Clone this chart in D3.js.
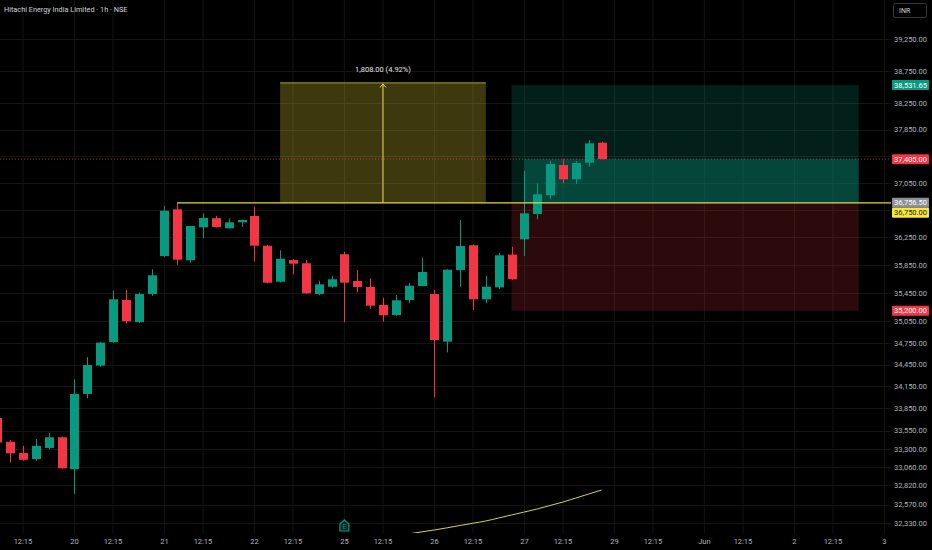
<!DOCTYPE html>
<html>
<head>
<meta charset="utf-8">
<script src="https://cdn.jsdelivr.net/npm/d3@7"></script>
<style>
  html, body { margin: 0; padding: 0; background: #000; }
  svg { display: block; font-family: Roboto, "Liberation Sans", sans-serif; }
</style>
</head>
<body>
<div id="chart"></div>
<script>
// ---- data ----
const title = "Hitachi Energy India Limited · 1h · NSE";
const firstBar = -6; // first visible hourly bar, counted from the 20th 09:15 bar

const open  = [33720,33400,33250,33170,33317,33460, 33035,34046,34435,34760,35352,35040,35437,
               35980,36660,35920,36397,36530,36383,36470, 36563,36130,35612,35923,35876,35437,35541,
               36006,35622,35537,35282,35140,35352,35551, 35437,34767,35780,36136,35362,35532,36000,
               36223,36592,36868,37317,37104,37352,37652];
const high  = [33800,33425,33345,33435,33518,33470, 34245,34550,34760,35485,35494,35456,35790,
               36710,36756.5,36420,36602,36565,36530,36510, 36700,36140,36063,35935,35923,35627,35694,
               36043,35780,35660,35385,35423,35598,35956, 35494,35790,36504,36150,35698,36029,36115,
               37232,37045,37382,37403,37377,37693,37670];
const low   = [33340,33125,33145,33145,33300,33040, 32710,33987,34420,34750,35024,35030,35410,
               35970,35856,35885,36237,36395,36380,36402, 35900,35590,35600,35718,35440,35419,35530,
               35038,35462,35225,35046,35130,35305,35545, 34000,34619,35541,35211,35305,35508,35640,
               35981,36514,36809,37045,37035,37292,37400];
const close = [33390,33245,33160,33345,33460,33047, 34045,34443,34753,35362,35052,35437,35704,
               36640,35928,36416,36533,36400,36470,36504, 36130,35598,35942,35870,35447,35575,35647,
               35598,35537,35272,35136,35348,35555,35751, 34790,35784,36125,35362,35541,35991,35647,
               36602,36882,37332,37104,37347,37643,37405];

// slow moving average (yellow line at the bottom)
const maStart = 25;
const maValues = [32170,32190,32215,32240,32268,32298,32327,32356,32395,32434,32473,32512,32558,32603,32655,32708,32760];

// x axis
const xTickIdx    = [-4, 0, 3, 7, 10, 14, 17, 21, 24, 28, 31, 35, 38, 42, 45, 49, 52, 56, 59, 63];
const xTickLabels = ["12:15","20","12:15","21","12:15","22","12:15","25","12:15","26","12:15","27","12:15","29","12:15","Jun","12:15","2","12:15","3"];

// y axis (log); grid lines on every tick, labels hidden where a price tag covers them
const yTicks = [39250,38750,38250,37850,37450,37050,36650,36250,35850,35450,35050,34750,34450,34150,33850,33550,33300,33060,32820,32570,32330];
const yTicksCovered = [37450, 36650];

// drawings
const rangeFrom = 36756.5, rangeTo = 38564.5, rangeStartBar = 16, rangeEndBar = 32;
const rangeLabel = "1,808.00 (4.92%)";
const levelLine = 36756.5, levelStartBar = 8;
const entry = 36750, target = 38531.65, stop = 35200, posStartBar = 34, posFillBar = 35, posEndBar = 61;
const lastPrice = 37405;
const earningsBar = 21;

const tagPrices = [38531.65, 37405, 36756.5, 36750, 35200];
const tagLabels = ["38,531.65", "37,405.00", "36,756.50", "36,750.00", "35,200.00"];
const tagFill   = ["#089981", "#f23645", "#8c8f96", "#f5e83a", "#f23645"];
const tagText   = ["#fff", "#fff", "#fff", "#1a1a1a", "#fff"];

// ---- layout ----
const width = 932, height = 550;
const plotRight = 891, plotBottom = 533;
const up = "#089981", down = "#f23645";

const svg = d3.select("#chart").append("svg")
    .attr("width", width)
    .attr("height", height);

svg.append("rect").attr("width", width).attr("height", height).attr("fill", "#000");

svg.append("defs").append("clipPath").attr("id", "plot-clip")
    .append("rect").attr("x", 0).attr("y", 0).attr("width", plotRight).attr("height", plotBottom);

const x = d3.scaleLinear().domain([0, 63]).range([74.4, 884.4]);
const y = d3.scaleLog().domain([32330, 39250]).range([523, 39]);

const bars = open.map((o, i) => ({ i: firstBar + i, o: o, h: high[i], l: low[i], c: close[i] }));

const plot = svg.append("g").attr("clip-path", "url(#plot-clip)");

// grid
plot.append("g").selectAll("line").data(xTickIdx).enter().append("line")
    .attr("x1", d => x(d)).attr("x2", d => x(d))
    .attr("y1", 0).attr("y2", plotBottom)
    .attr("stroke", "#141414").attr("stroke-width", 1);
plot.append("g").selectAll("line").data(yTicks).enter().append("line")
    .attr("x1", 0).attr("x2", plotRight)
    .attr("y1", d => Math.round(y(d)) + 0.5).attr("y2", d => Math.round(y(d)) + 0.5)
    .attr("stroke", "#141414").attr("stroke-width", 1);

// price range box
plot.append("rect")
    .attr("x", x(rangeStartBar)).attr("y", y(rangeTo))
    .attr("width", x(rangeEndBar) - x(rangeStartBar))
    .attr("height", y(rangeFrom) - y(rangeTo))
    .attr("fill", "rgba(255,235,59,0.24)");
plot.append("line")
    .attr("x1", x(rangeStartBar)).attr("x2", x(rangeEndBar))
    .attr("y1", y(rangeTo)).attr("y2", y(rangeTo))
    .attr("stroke", "#8f8a2e").attr("stroke-width", 1.2);

// long position tool
plot.append("rect")
    .attr("x", x(posStartBar)).attr("y", y(target))
    .attr("width", x(posEndBar) - x(posStartBar))
    .attr("height", y(entry) - y(target))
    .attr("fill", "rgba(8,153,129,0.2)");
plot.append("rect")
    .attr("x", x(posFillBar)).attr("y", y(lastPrice))
    .attr("width", x(posEndBar) - x(posFillBar))
    .attr("height", y(entry) - y(lastPrice))
    .attr("fill", "rgba(8,153,129,0.32)");
plot.append("rect")
    .attr("x", x(posStartBar)).attr("y", y(entry))
    .attr("width", x(posEndBar) - x(posStartBar))
    .attr("height", y(stop) - y(entry))
    .attr("fill", "rgba(242,54,69,0.18)");

// last price dotted line
plot.append("line")
    .attr("x1", 0).attr("x2", plotRight)
    .attr("y1", y(lastPrice)).attr("y2", y(lastPrice))
    .attr("stroke", down).attr("stroke-opacity", 0.7)
    .attr("stroke-dasharray", "1,2");

// candles
const candles = plot.append("g").selectAll("g").data(bars).enter().append("g");
candles.append("line")
    .attr("x1", d => Math.round(x(d.i)) + 0.5).attr("x2", d => Math.round(x(d.i)) + 0.5)
    .attr("y1", d => y(d.h)).attr("y2", d => y(d.l))
    .attr("stroke", d => d.c >= d.o ? up : down);
candles.append("rect")
    .attr("x", d => Math.round(x(d.i)) - 4)
    .attr("width", 9)
    .attr("y", d => y(Math.max(d.o, d.c)))
    .attr("height", d => Math.max(1, Math.abs(y(d.o) - y(d.c))))
    .attr("fill", d => d.c >= d.o ? up : down);

// horizontal level line
plot.append("line")
    .attr("x1", x(levelStartBar)).attr("x2", plotRight)
    .attr("y1", y(levelLine)).attr("y2", y(levelLine))
    .attr("stroke", "#e3d84a").attr("stroke-width", 1.2);

// range arrow + label
const midX = (x(rangeStartBar) + x(rangeEndBar)) / 2;
plot.append("line")
    .attr("x1", midX).attr("x2", midX)
    .attr("y1", y(rangeFrom)).attr("y2", y(rangeTo) + 1)
    .attr("stroke", "#e3dc5a").attr("stroke-width", 1);
plot.append("path")
    .attr("d", `M${midX - 3},${y(rangeTo) + 4.5} L${midX},${y(rangeTo) + 1} L${midX + 3},${y(rangeTo) + 4.5}`)
    .attr("fill", "none").attr("stroke", "#e3dc5a").attr("stroke-width", 1);
svg.append("text")
    .attr("x", midX).attr("y", y(rangeTo) - 11)
    .attr("text-anchor", "middle")
    .attr("fill", "#e6e6e6").attr("font-size", 7.5)
    .text(rangeLabel);

// moving average
plot.append("path")
    .datum(maValues)
    .attr("d", d3.line().x((d, i) => x(maStart + i)).y(d => y(d)).curve(d3.curveMonotoneX))
    .attr("fill", "none").attr("stroke", "#d8d04a").attr("stroke-width", 1);

// earnings marker
const ex = x(earningsBar), ey = 526;
svg.append("path")
    .attr("d", `M${ex - 4.5},${ey - 2} L${ex},${ey - 6} L${ex + 4.5},${ey - 2} L${ex + 4.5},${ey + 5} L${ex - 4.5},${ey + 5} Z`)
    .attr("fill", "#06231e").attr("stroke", up).attr("stroke-width", 1.2)
    .attr("stroke-linejoin", "round");
svg.append("text")
    .attr("x", ex).attr("y", ey + 3.2)
    .attr("text-anchor", "middle")
    .attr("fill", up).attr("font-size", 6.5)
    .text("E");

// x axis labels
svg.append("g").selectAll("text").data(xTickIdx).enter().append("text")
    .attr("x", d => x(d)).attr("y", 544)
    .attr("text-anchor", "middle")
    .attr("fill", "#b2b5be").attr("font-size", 7.5)
    .text((d, i) => xTickLabels[i]);

// y axis labels
svg.append("g").selectAll("text").data(yTicks.filter(t => yTicksCovered.indexOf(t) < 0)).enter().append("text")
    .attr("x", 927).attr("y", d => y(d) + 2.7)
    .attr("text-anchor", "end")
    .attr("fill", "#b2b5be").attr("font-size", 7.5)
    .text(d => d3.format(",.2f")(d));

// price tags (pushed apart when they overlap)
const tagH = 10;
let prevY = -100;
const tags = tagPrices.map((p, i) => {
    let ty = y(p);
    if (ty - prevY < tagH) ty = prevY + tagH;
    prevY = ty;
    return { y: ty, i: i };
});
const tagG = svg.append("g").selectAll("g").data(tags).enter().append("g");
tagG.append("rect")
    .attr("x", 892).attr("y", d => d.y - tagH / 2)
    .attr("width", 37).attr("height", tagH).attr("rx", 1)
    .attr("fill", d => tagFill[d.i]);
tagG.append("text")
    .attr("x", 927).attr("y", d => d.y + 2.7)
    .attr("text-anchor", "end")
    .attr("fill", d => tagText[d.i]).attr("font-size", 7.5)
    .text(d => tagLabels[d.i]);

// title + currency box
svg.append("text")
    .attr("x", 4).attr("y", 12)
    .attr("fill", "#d1d4dc").attr("font-size", 7.3)
    .text(title);
svg.append("rect")
    .attr("x", 893.5).attr("y", 3.5).attr("width", 33).attr("height", 14).attr("rx", 2)
    .attr("fill", "#000").attr("stroke", "#3a3a3a");
svg.append("text")
    .attr("x", 899).attr("y", 13)
    .attr("fill", "#d1d4dc").attr("font-size", 7)
    .text("INR");
</script>
</body>
</html>
